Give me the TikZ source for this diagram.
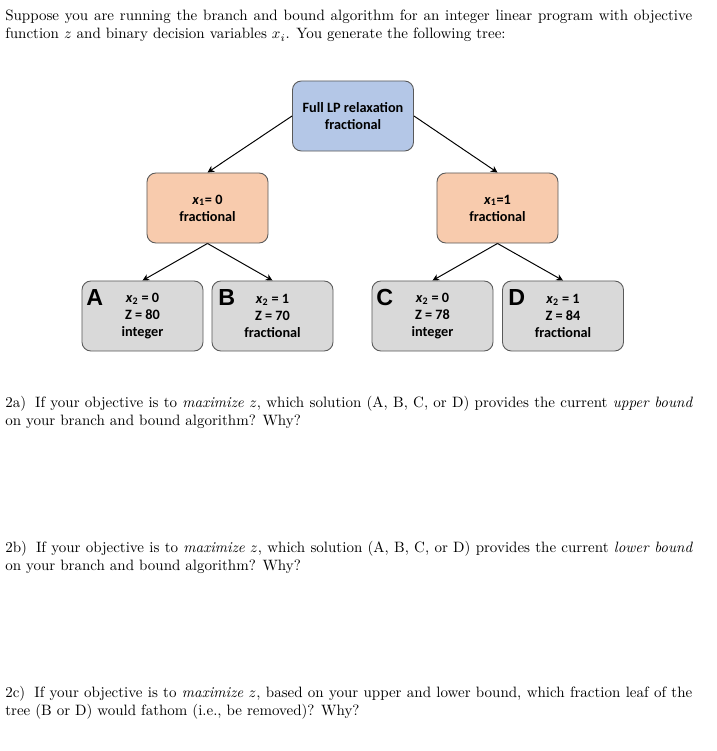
\documentclass[tikz,border=0pt]{standalone}
\usepackage{fontspec}
\newfontfamily\boxfont{Carlito}
\newfontfamily\letterfont{Liberation Sans}
\usetikzlibrary{arrows.meta}
\definecolor{lpblue}{HTML}{B4C7E7}
\definecolor{branchorange}{HTML}{F8CBAD}
\definecolor{leafgray}{HTML}{D9D9D9}
\definecolor{boxedge}{HTML}{595959}
\begin{document}
\begin{tikzpicture}[x=0.6667pt, y=-0.6667pt,
      treebox/.style={draw=boxedge, line width=0.6pt, rounded corners=6pt,
        minimum width=80.7pt, minimum height=46.7pt, inner sep=0pt, align=center,
        font=\boxfont\bfseries\fontsize{9.5}{11.3}\selectfont},
      lpbox/.style={treebox, fill=lpblue},
      branchbox/.style={treebox, fill=branchorange},
      leafbox/.style={treebox, fill=leafgray},
      leafletter/.style={anchor=north west, inner sep=0pt, font=\letterfont\bfseries\fontsize{15.5}{15.5}\selectfont},
      question/.style={anchor=north west, inner sep=0pt, text width=458pt, align=justify, font=\fontsize{10}{12}\selectfont},
      edge/.style={-{Stealth[length=4.5pt, width=4.5pt]}, line width=0.65pt}
    ]
    \useasboundingbox (0,0) rectangle (716,751);

    \node[question] (intro) at (5,10) {Suppose you are running the branch and bound algorithm for an integer linear program with objective function $z$ and binary decision variables $x_i$. You generate the following tree:};

    \node[lpbox] (full) at (353,116) {Full LP relaxation\\fractional};
    \node[branchbox] (xone0) at (207.5,208) {\textit{x}\textsubscript{1}= 0\\fractional};
    \node[branchbox] (xone1) at (497.5,208) {\textit{x}\textsubscript{1}=1\\fractional};

    \node[leafbox] (leafA) at (142.5,316) {\textit{x}\textsubscript{2} = 0\\Z = 80\\integer};
    \node[leafbox] (leafB) at (272.5,316) {\textit{x}\textsubscript{2} = 1\\Z = 70\\fractional};
    \node[leafbox] (leafC) at (432.5,316) {\textit{x}\textsubscript{2} = 0\\Z = 78\\integer};
    \node[leafbox] (leafD) at (563,316) {\textit{x}\textsubscript{2} = 1\\Z = 84\\fractional};

    \node[leafletter] (tagA) at (86,289) {A};
    \node[leafletter] (tagB) at (218,289) {B};
    \node[leafletter] (tagC) at (376,289) {C};
    \node[leafletter] (tagD) at (508,289) {D};

    \draw[edge] (full.west) -- (xone0.north);
    \draw[edge] (full.east) -- (xone1.north);
    \draw[edge] (xone0.south) -- (leafA.north);
    \draw[edge] (xone0.south) -- (leafB.north);
    \draw[edge] (xone1.south) -- (leafC.north);
    \draw[edge] (xone1.south) -- (leafD.north);

    \node[question] (parta) at (5,396) {2a)\hspace{2.5pt} If your objective is to \textit{maximize} $z$, which solution (A, B, C, or D) provides the current \textit{upper bound} on your branch and bound algorithm? Why?};
    \node[question] (partb) at (5,541) {2b)\hspace{2.5pt} If your objective is to \textit{maximize} $z$, which solution (A, B, C, or D) provides the current \textit{lower bound} on your branch and bound algorithm? Why?};
    \node[question] (partc) at (5,686) {2c)\hspace{2.5pt} If your objective is to \textit{maximize} $z$, based on your upper and lower bound, which fraction leaf of the tree (B or D) would fathom (i.e., be removed)? Why?};

\end{tikzpicture}
\end{document}
